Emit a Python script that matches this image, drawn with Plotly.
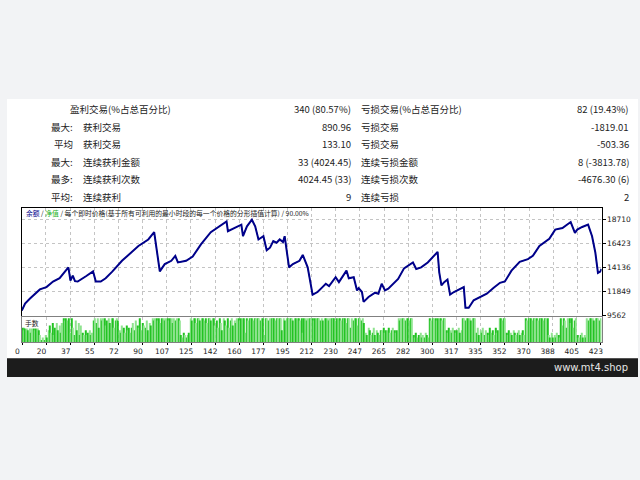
import plotly.graph_objects as go

# ---------------- data ----------------
balance_trade = [0, 2.4, 6, 13.2, 18, 22.8, 27.6, 31.2, 34, 35.5, 37.2, 38.8, 40.8, 46.8, 51.1, 52, 54, 57.6,
                 61.2, 66, 73.1, 77.9, 85.1, 92.3, 96.6, 100.7, 104.3, 109.1, 112, 113.9, 119.9, 124.7, 130.7,
                 137.9, 145.1, 149.4, 150.4, 157.1, 160.2, 161.4, 164.3, 167.9, 170.3, 172.7, 176.3, 178.7,
                 181.1, 183.5, 185.9, 188.2, 190.6, 191.8, 195, 197.8, 202.6, 205, 208.6, 212.2, 215.8, 219.4,
                 221.8, 224.2, 229, 231.4, 233.8, 236.9, 238.6, 242.2, 244.6, 245.8, 248.2, 249.4, 253, 257.8,
                 260.2, 262.6, 265, 267.4, 274.6, 278.9, 285.4, 287.8, 291.4, 296.2, 303.4, 304.6, 306.2, 308.2,
                 310.6, 312.5, 315.3, 322.5, 323.7, 326.1, 329.7, 334.5, 339.3, 344.1, 348.9, 352.5, 357.3,
                 363.3, 369.3, 372.9, 377.7, 384.9, 389.2, 394.5, 400.5, 403.6, 405.3, 408.9, 413.2, 416.1,
                 418.5, 420.4, 422.1, 423]
balance = [10050, 10720, 11190, 12066, 12286, 12818, 13130, 13694, 14164, 12912, 13381, 12849, 12818, 13318,
           13694, 13788, 12818, 12818, 13130, 13757, 14790, 15322, 16198, 16824, 17513, 13788, 14477, 14790,
           15259, 14633, 14790, 15196, 16355, 17513, 18139, 18546, 17607, 18076, 18233, 17137, 18076, 18702,
           18076, 16824, 17137, 15791, 16041, 16667, 16511, 16824, 16574, 17137, 14164, 14477, 14790, 15353,
           14164, 11566, 11816, 12286, 12599, 12380, 13224, 12755, 13224, 13851, 13130, 13224, 11972, 12192,
           11816, 10877, 11347, 11754, 11660, 12599, 11972, 12129, 13068, 14070, 14633, 14007, 14164, 14633,
           15635, 13694, 12442, 12755, 13005, 11566, 11816, 12286, 10314, 10314, 11034, 11347, 11660, 12192,
           12692, 12818, 13851, 14696, 14946, 15259, 16198, 16887, 17763, 17920, 18483, 17450, 17763, 18013,
           18233, 17137, 15572, 13631, 13757, 14007]

lots = [6, 5, 6, 6, 5, 6, 4, 6, 6, 5, 6, 6, 5,
        3, 1, 2, 1, 3, 2,
        5, 7, 4, 8, 3, 6, 8, 5, 7, 4, 8,
        10, 9, 10, 9, 10,
        4, 10, 6, 3, 9, 5, 8, 3, 7,
        4, 3, 5, 3, 4, 5, 3, 4,
        9, 10, 8, 10, 6, 10, 9, 10, 10, 7, 9, 10, 8, 10, 10, 6, 9, 10, 9,
        5, 4, 7, 6, 4, 7, 5, 6, 4,
        6, 8, 5, 9, 7, 6, 10, 5, 8, 7, 6, 9, 5, 8, 7,
        10, 9, 10, 10, 9, 10, 8, 10, 10, 9, 10, 10, 9, 10, 10, 8, 10, 9, 10, 10, 9,
        3, 2, 4, 3, 2, 3, 4,
        10, 9, 10, 10, 8, 10, 10, 9, 10, 10, 9, 10, 8, 10, 10, 9, 10,
        10, 7, 9, 6, 10, 8, 5, 10, 9, 7, 10, 6, 9, 10, 7, 9, 8,
        10, 10, 9, 10, 10, 10, 4, 10, 9, 10, 10, 10, 9, 10, 10, 10, 10, 9, 10, 10,
        3, 10, 10, 9, 10, 10, 10, 10, 9, 10, 10, 10, 10, 5, 10, 9, 10, 10, 10, 10,
        10, 9, 10, 10, 10, 10, 9, 10, 4, 10, 10, 9, 10, 10, 10, 10, 9, 10, 10, 10,
        10, 9,
        10, 9, 10, 10, 10, 9, 10, 10, 10, 10, 9, 10, 10, 10, 9, 10, 10,
        10, 8, 10, 10, 6, 10, 9, 10, 10, 7, 10, 10, 9, 10, 8,
        4, 3, 6, 5, 3, 4, 6, 3, 5, 4, 3, 5,
        5, 6, 4, 5, 5, 6, 4, 5, 6, 5, 4, 5,
        10, 9, 10, 10, 10, 9, 10, 10, 9, 10, 10,
        3, 2, 4, 2, 3, 4, 2, 3, 2, 4, 3, 2,
        10, 9, 10, 10, 10, 9, 10, 10, 10, 9, 10, 10,
        5, 4, 6, 5, 4, 6, 5, 4, 5, 6, 4, 5,
        10, 10, 9, 10, 10, 10, 9, 10, 10, 10,
        4, 6, 3, 5, 4, 6, 3, 5, 4, 3, 6, 4, 5, 3, 6, 4, 5,
        10, 10, 9, 10, 10,
        4, 3, 5, 4, 3, 5, 4, 3, 4, 5, 3, 4, 5, 3,
        10, 9, 10, 10, 10, 9, 10, 10, 10, 9, 10, 10, 10, 9, 10, 10, 10,
        3, 2, 4, 2, 3, 2, 4, 3, 2,
        10, 7, 10, 9, 6, 10, 10, 8, 10, 6, 9, 10,
        3, 2, 3, 4, 2, 3, 2,
        10, 9, 10, 10, 10, 9, 10, 10, 10, 9, 10]

y_ticks = [9562, 11849, 14136, 16423, 18710]
x_tick_labels = ["0", "20", "37", "55", "72", "90", "107", "125", "142", "160", "177", "195", "212",
                 "230", "247", "265", "282", "300", "317", "335", "352", "370", "388", "405", "423"]

prefixes = ["", "最大:", "平均", "最大:", "最多:", "平均:"]
win_labels = ["盈利交易(%占总百分比)", "获利交易", "获利交易", "连续获利金额", "连续获利次数", "连续获利"]
win_values = ["340 (80.57%)", "890.96", "133.10", "33 (4024.45)", "4024.45 (33)", "9"]
loss_labels = ["亏损交易(%占总百分比)", "亏损交易", "亏损交易", "连续亏损金额", "连续亏损次数", "连续亏损"]
loss_values = ["82 (19.43%)", "-1819.01", "-503.36", "8 (-3813.78)", "-4676.30 (6)", "2"]

# ---------------- figure ----------------
W, H = 640, 480
def px(x):
    return x / W
def py(y):
    return 1 - y / H

CJK = "Noto Sans CJK SC, Noto Sans, sans-serif"
NUM = "DejaVu Sans, Liberation Sans, sans-serif"
TXT = "#222222"

fig = go.Figure()

fig.add_trace(go.Scatter(x=balance_trade, y=balance, mode="lines",
                         line=dict(color="#32cd32", width=1), xaxis="x", yaxis="y",
                         hoverinfo="skip", showlegend=False))
fig.add_trace(go.Scatter(x=balance_trade, y=balance, mode="lines",
                         line=dict(color="#00008b", width=2), xaxis="x", yaxis="y",
                         showlegend=False))

lot_x = list(range(len(lots)))
lot_colors = ["#22c322" if i % 2 == 0 else "#8fe38f" for i in lot_x]
fig.add_trace(go.Bar(x=lot_x, y=lots, marker=dict(color=lot_colors, line=dict(width=0)),
                     xaxis="x2", yaxis="y2", showlegend=False))

n_max = 423
tickvals = [k * n_max / 24 for k in range(25)]

x_dom = [px(15), px(603)]
grid_col = "#c4c4c4"

fig.update_layout(
    width=W, height=H, autosize=False,
    margin=dict(l=0, r=0, t=0, b=0),
    paper_bgcolor="#f2f3f5", plot_bgcolor="#ffffff",
    bargap=0.25,
    xaxis=dict(domain=x_dom, range=[0, n_max], tickvals=tickvals, showticklabels=False,
               showgrid=True, gridcolor=grid_col, griddash="dot", gridwidth=1,
               showline=True, linecolor="#000000", linewidth=1, mirror=True, zeroline=False,
               ticks=""),
    yaxis=dict(domain=[py(319), py(210)], range=[9562, 19840], tickvals=y_ticks,
               ticktext=[str(v) for v in y_ticks], side="right", ticks="outside", ticklen=3,
               tickcolor="#000000", tickfont=dict(family=NUM, size=7.5, color=TXT),
               showgrid=True, gridcolor=grid_col, griddash="dot", gridwidth=1,
               showline=True, linecolor="#000000", linewidth=1, mirror=True, zeroline=False),
    xaxis2=dict(domain=x_dom, range=[-0.5, n_max + 0.5], tickvals=tickvals, ticktext=x_tick_labels,
                anchor="y2", ticks="outside", ticklen=2, tickcolor="#000000",
                tickfont=dict(family=NUM, size=7.5, color=TXT), ticklabelshift=-5,
                showgrid=True, gridcolor=grid_col, griddash="dot", gridwidth=1,
                showline=True, linecolor="#808080", linewidth=1, mirror=True, zeroline=False),
    yaxis2=dict(domain=[py(346), py(320)], range=[0, 10.6], anchor="x2",
                showticklabels=False, showgrid=False, ticks="",
                showline=True, linecolor="#808080", linewidth=1, mirror=True, zeroline=False),
)

shapes = [
    dict(type="rect", xref="paper", yref="paper", x0=0, x1=1, y0=py(362), y1=py(100),
         fillcolor="#ffffff", line=dict(width=0), layer="below"),
    dict(type="rect", xref="paper", yref="paper", x0=0, x1=1, y0=py(381), y1=py(362),
         fillcolor="#1c1c1c", line=dict(width=0), layer="below"),
]
fig.update_layout(shapes=shapes)

ann = []
row_y = [110, 128, 146, 164, 181, 199]
for i in range(6):
    y = py(row_y[i])
    if prefixes[i]:
        ann.append(dict(x=px(69), y=y, text=prefixes[i], xanchor="right"))
    ann.append(dict(x=px(62 if i == 0 else 75), y=y, text=win_labels[i], xanchor="left"))
    ann.append(dict(x=px(351), y=y, text=win_values[i], xanchor="right"))
    ann.append(dict(x=px(357), y=y, text=loss_labels[i], xanchor="left"))
    ann.append(dict(x=px(633), y=y, text=loss_values[i], xanchor="right"))
for a in ann:
    a.update(xref="paper", yref="paper", yanchor="middle", showarrow=False,
             font=dict(family=CJK, size=9.5, color=TXT))

ann.append(dict(xref="paper", yref="paper", x=px(17), y=py(215), xanchor="left", yanchor="middle",
                showarrow=False, font=dict(family=CJK, size=6.8, color=TXT),
                text="<span style='color:#00008b'>余额</span> / <span style='color:#22b022'>净值</span>"
                     " / 每个即时价格(基于所有可利用的最小时段的每一个价格的分形插值计算) / 90.00%"))
ann.append(dict(xref="paper", yref="paper", x=px(17), y=py(326), xanchor="left", yanchor="middle",
                showarrow=False, font=dict(family=CJK, size=6.8, color=TXT), text="手数",
                bgcolor="#ffffff", borderpad=0))
ann.append(dict(xref="paper", yref="paper", x=px(632), y=py(371.5), xanchor="right", yanchor="middle",
                showarrow=False, font=dict(family="DejaVu Sans, sans-serif", size=10, color="#e6e6e6"),
                text="www.mt4.shop"))
fig.update_layout(annotations=ann)

fig.write_html("out.html", config={"displayModeBar": False},
               post_script="document.body.style.margin='0';document.body.style.padding='0';"
                           "document.documentElement.style.background='#f2f3f5';")
